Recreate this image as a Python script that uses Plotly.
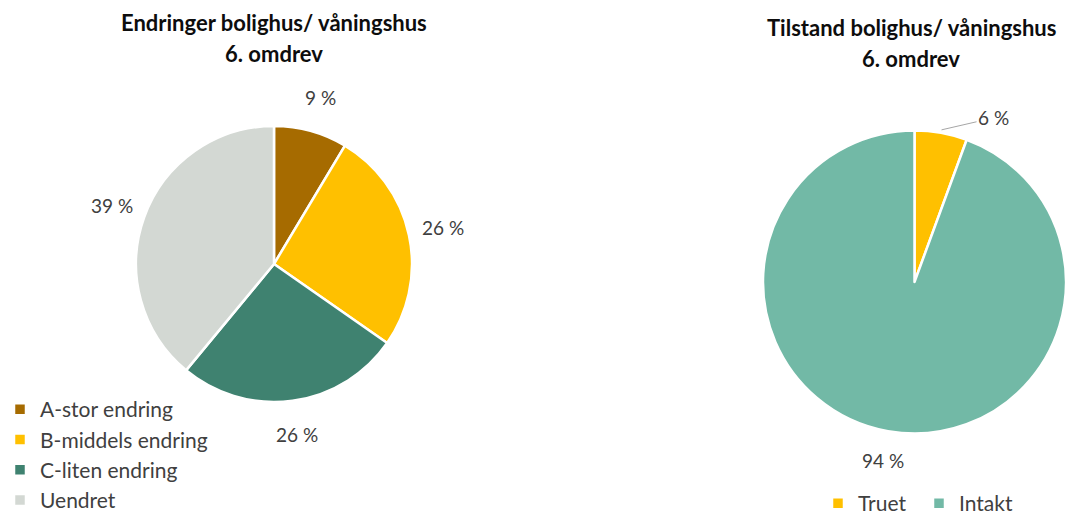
import math
import plotly.graph_objects as go

# ---- data ----
left_labels = ["A-stor endring", "B-middels endring", "C-liten endring", "Uendret"]
left_values = [8.6, 26.1, 26.3, 39.0]
left_colors = ["#A66B00", "#FFC000", "#3F8270", "#D3D8D3"]

right_labels = ["Truet", "Intakt"]
right_values = [5.6, 94.4]
right_colors = ["#FFC000", "#72B9A6"]

left_title = ["Endringer bolighus/ våningshus", "6. omdrev"]
right_title = ["Tilstand bolighus/ våningshus", "6. omdrev"]

W, H = 1066, 515
FONT = "Lato"
TXT = "#404040"

left_dx = [136 / W, 412 / W]
left_dy = [1 - 402 / H, 1 - 126 / H]
right_dx = [763 / W, 1.0]
right_dy = [1 - 434 / H, 1 - 130 / H]

fig = go.Figure()
fig.add_trace(go.Pie(
    labels=left_labels, values=left_values, sort=False, direction="clockwise",
    rotation=0, marker=dict(colors=left_colors, line=dict(color="white", width=2.5)),
    textinfo="none", domain=dict(x=left_dx, y=left_dy), legend="legend",
    hoverinfo="label+percent",
))
fig.add_trace(go.Pie(
    labels=right_labels, values=right_values, sort=False, direction="clockwise",
    rotation=0, marker=dict(colors=right_colors, line=dict(color="white", width=2.5)),
    textinfo="none", domain=dict(x=right_dx, y=right_dy), legend="legend2",
    hoverinfo="label+percent",
))


def label_positions(values, dx, dy, factor):
    cx = (dx[0] + dx[1]) / 2 * W
    cy = (1 - (dy[0] + dy[1]) / 2) * H
    R = min((dx[1] - dx[0]) * W, (dy[1] - dy[0]) * H) / 2
    total = sum(values)
    cum = 0
    out = []
    for v in values:
        mid = (cum + v / 2) / total * 2 * math.pi
        x = cx + factor * R * math.sin(mid)
        y = cy - factor * R * math.cos(mid)
        out.append((x / W, 1 - y / H, f"{round(v / total * 100)} %", cx, cy, R, mid))
        cum += v
    return out


LBL = dict(family=FONT, size=19, color=TXT)
annotations = []
for x, y, t, *_ in label_positions(left_values, left_dx, left_dy, 1.25):
    annotations.append(dict(x=x, y=y, xref="paper", yref="paper", text=t,
                            xanchor="center", yanchor="middle", showarrow=False, font=LBL))

rpos = label_positions(right_values, right_dx, right_dy, 1.2)
# small slice: leader line
x, y, t, cx, cy, R, mid = rpos[0]
tipx = cx + R * 1.02 * math.sin(mid)
tipy = cy - R * 1.02 * math.cos(mid)
annotations.append(dict(x=tipx / W, y=1 - tipy / H, xref="paper", yref="paper", text=t,
                        showarrow=True, arrowhead=0, arrowwidth=1, arrowcolor="#A6A6A6",
                        ax=52, ay=-12, xanchor="center", yanchor="middle", font=LBL))
x, y, t, *_ = rpos[1]
annotations.append(dict(x=x, y=y, xref="paper", yref="paper", text=t,
                        xanchor="center", yanchor="middle", showarrow=False, font=LBL))

# titles
TTL = dict(family=FONT, size=22, color="#0D0D0D")
for line, ypx in zip(left_title, [22, 54]):
    annotations.append(dict(x=274 / W, y=1 - ypx / H, xref="paper", yref="paper", text=f"<b>{line}</b>",
                            xanchor="center", yanchor="middle", showarrow=False, font=TTL))
for line, ypx in zip(right_title, [27, 58]):
    annotations.append(dict(x=911 / W, y=1 - ypx / H, xref="paper", yref="paper", text=f"<b>{line}</b>",
                            xanchor="center", yanchor="middle", showarrow=False, font=TTL))

fig.update_layout(
    width=W, height=H, margin=dict(l=0, r=0, t=0, b=0, autoexpand=False),
    paper_bgcolor="white", plot_bgcolor="white",
    annotations=annotations,
    legend=dict(x=0, y=1 - 389 / H, xanchor="left", yanchor="top", itemwidth=30,
                font=dict(family=FONT, size=21, color=TXT), bgcolor="rgba(0,0,0,0)",
                traceorder="normal"),
    legend2=dict(orientation="h", x=818 / W, y=1 - 483 / H, xanchor="left", yanchor="top",
                 itemwidth=30, entrywidth=56, entrywidthmode="pixels",
                 font=dict(family=FONT, size=21, color=TXT), bgcolor="rgba(0,0,0,0)"),
    font=dict(family=FONT),
)

fig.write_html("out.html", config={"displayModeBar": False},
               post_script="document.body.style.margin='0';document.body.style.overflow='hidden';")
